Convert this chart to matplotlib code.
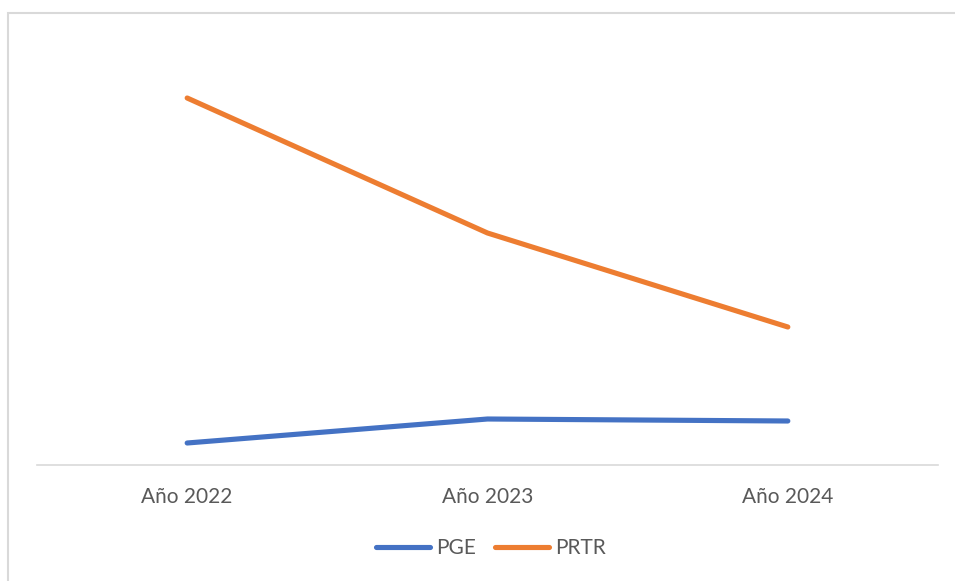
import matplotlib
matplotlib.use("Agg")
from matplotlib import pyplot as plt
from matplotlib.patches import Rectangle

plt.rcParams['font.family'] = ['Lato', 'DejaVu Sans']

years = ["Año 2022", "Año 2023", "Año 2024"]
pge = [22, 46, 44]
prtr = [367, 232, 138]

fig = plt.figure(figsize=(9.55, 5.81), dpi=100)
ax = fig.add_axes([37 / 955, 116 / 581, 901 / 955, 437 / 581])

x = [0, 1, 2]
ax.plot(x, pge, color="#4472C4", lw=3.7, solid_capstyle="round", label="PGE")
ax.plot(x, prtr, color="#ED7D31", lw=3.7, solid_capstyle="round", label="PRTR")

ax.set_xlim(-0.5, 2.5)
ax.set_ylim(0, 437)
ax.set_yticks([])
ax.set_xticks(x)
ax.set_xticklabels(years, fontsize=15, color="#595959")
ax.tick_params(axis="x", length=0, pad=16)
for s in ["top", "right", "left"]:
    ax.spines[s].set_visible(False)
ax.spines["bottom"].set_color("#d9d9d9")
ax.spines["bottom"].set_linewidth(1.2)

leg = fig.legend(loc="center", bbox_to_anchor=(491 / 955, 1 - 548 / 581), ncol=2,
                 frameon=False, fontsize=15, handlelength=2.6, handletextpad=0.3,
                 columnspacing=0.9)
for t in leg.get_texts():
    t.set_color("#595959")

# chart area border (cut off at right and bottom)
fig.patches.append(Rectangle((8 / 955, -0.05), 1.0, 1 - 13 / 581 + 0.05,
                             transform=fig.transFigure, fill=False,
                             edgecolor="#d9d9d9", lw=1.5))

plt.savefig("out.png", dpi=100)
